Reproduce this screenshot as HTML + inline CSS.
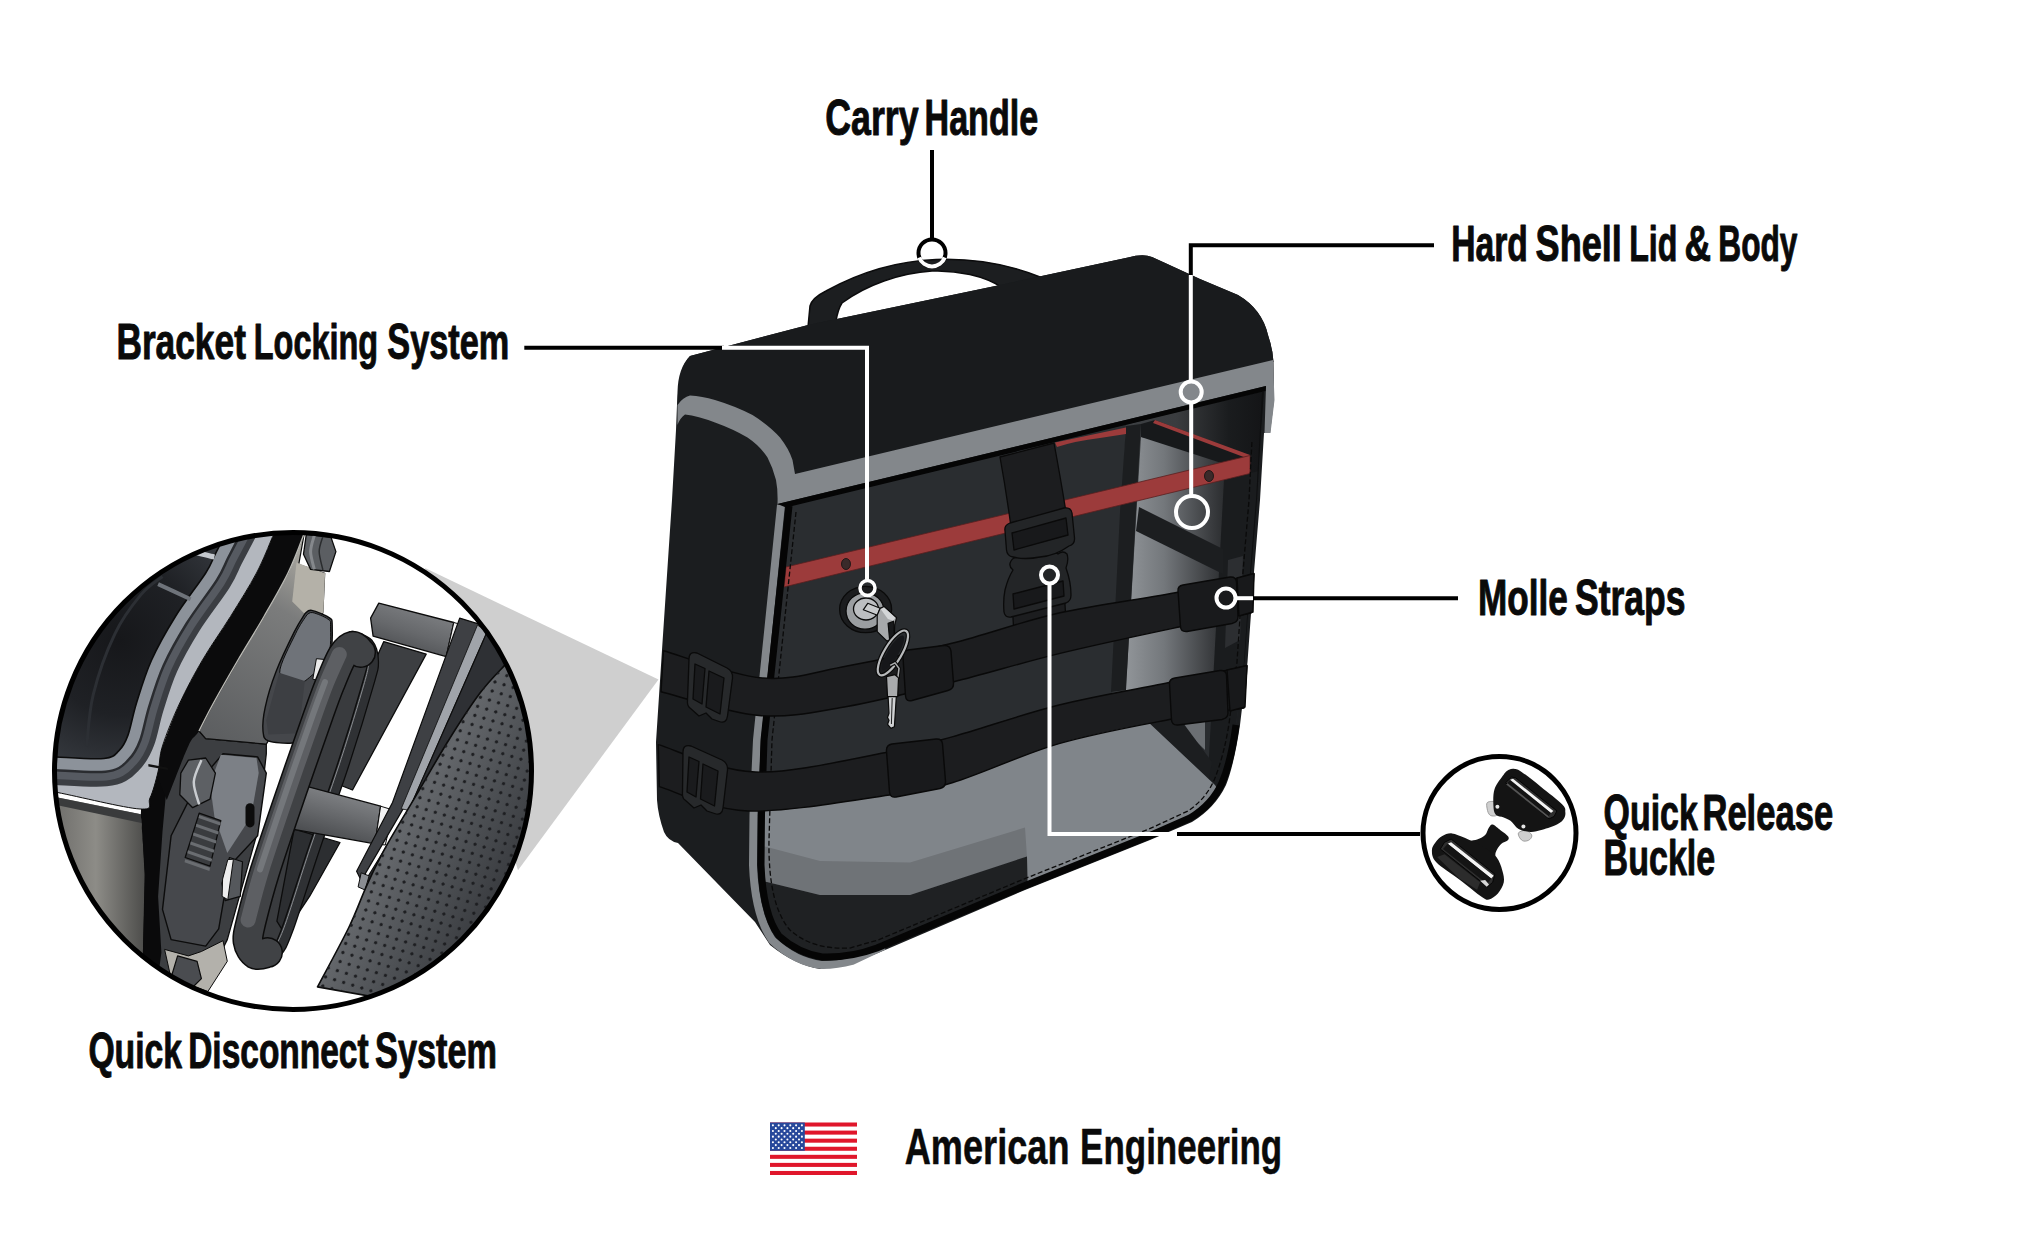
<!DOCTYPE html>
<html>
<head>
<meta charset="utf-8">
<title>Saddlebag features</title>
<style>
  html, body { margin: 0; padding: 0; background: #ffffff; }
  body { width: 2044px; height: 1248px; overflow: hidden; font-family: "Liberation Sans", sans-serif; }
  svg { display: block; }
  .lbl { font-family: "Liberation Sans", sans-serif; font-weight: bold; font-size: 50.5px; fill: #0a0a0a; stroke: #0a0a0a; stroke-width: 1.0px; stroke-linejoin: round; }
  .lbl2 { stroke-width: 0.5px; }
</style>
</head>
<body>
<svg width="2044" height="1248" viewBox="0 0 2044 1248">
<defs>
  <linearGradient id="gRightDark" gradientUnits="userSpaceOnUse" x1="1130" y1="0" x2="1262" y2="0">
    <stop offset="0" stop-color="#3c3f42"/>
    <stop offset="0.35" stop-color="#3a3c3f"/>
    <stop offset="0.75" stop-color="#1a1c1e"/>
    <stop offset="1" stop-color="#141517"/>
  </linearGradient>
  <linearGradient id="gPanel" gradientUnits="userSpaceOnUse" x1="1128" y1="0" x2="1232" y2="0">
    <stop offset="0" stop-color="#8f9397"/>
    <stop offset="0.35" stop-color="#73777b"/>
    <stop offset="0.8" stop-color="#3a3c3f"/>
    <stop offset="1" stop-color="#232527"/>
  </linearGradient>
  <clipPath id="detailClip"><circle cx="293" cy="771" r="238.5"/></clipPath>
  <linearGradient id="dgBrown" gradientUnits="userSpaceOnUse" x1="55" y1="0" x2="146" y2="0">
    <stop offset="0" stop-color="#6f6e6b"/>
    <stop offset="0.45" stop-color="#8d8c87"/>
    <stop offset="1" stop-color="#4b4b49"/>
  </linearGradient>
  <linearGradient id="dgPlate" gradientUnits="userSpaceOnUse" x1="320" y1="560" x2="215" y2="740">
    <stop offset="0" stop-color="#a9a7a0"/>
    <stop offset="0.3" stop-color="#7b7c7c"/>
    <stop offset="1" stop-color="#5c5e60"/>
  </linearGradient>
  <radialGradient id="dgPanel" gradientUnits="userSpaceOnUse" cx="120" cy="640" r="150">
    <stop offset="0" stop-color="#16171a"/>
    <stop offset="0.5" stop-color="#1f2125"/>
    <stop offset="1" stop-color="#3a3e44"/>
  </radialGradient>
  <linearGradient id="dgCyl1" gradientUnits="userSpaceOnUse" x1="420" y1="610" x2="405" y2="655">
    <stop offset="0" stop-color="#7a7c7f"/>
    <stop offset="0.5" stop-color="#66686b"/>
    <stop offset="1" stop-color="#4d4f52"/>
  </linearGradient>
  <linearGradient id="dgCyl2" gradientUnits="userSpaceOnUse" x1="345" y1="795" x2="333" y2="838">
    <stop offset="0" stop-color="#7e8083"/>
    <stop offset="0.5" stop-color="#66686b"/>
    <stop offset="1" stop-color="#4d4f52"/>
  </linearGradient>
  <linearGradient id="dgLeather" gradientUnits="userSpaceOnUse" x1="380" y1="760" x2="540" y2="850">
    <stop offset="0" stop-color="#4a4d51"/>
    <stop offset="0.3" stop-color="#64676b"/>
    <stop offset="0.65" stop-color="#4b4e52"/>
    <stop offset="1" stop-color="#35373b"/>
  </linearGradient>
  <linearGradient id="dgLeatherHi" gradientUnits="userSpaceOnUse" x1="380" y1="760" x2="540" y2="850">
    <stop offset="0" stop-color="#000" stop-opacity="0"/>
    <stop offset="1" stop-color="#000" stop-opacity="0"/>
  </linearGradient>
  <pattern id="dots" patternUnits="userSpaceOnUse" width="13.4" height="13.4" patternTransform="rotate(-28 400 800)">
    <circle cx="3.3" cy="3.3" r="1.700" fill="#1d1e21"/>
    <circle cx="10" cy="10" r="1.700" fill="#1d1e21"/>
  </pattern>
</defs>
<g id="cone">
  <polygon points="425,568.1 658.5,679.5 518,870.2" fill="#cfcfcf"/>
</g>
<g id="bag">
  <!-- handle -->
  <path d="M808,327 L810,306 Q812,298 826,291 C862,271 900,261 936,259.500 C976,258 1010,265 1040,277 L1001,287 C985,276 957,270 932,271 C900,273 866,285 842,303 Q838,309 836,321 Z" fill="#1c1e20" stroke="#0b0b0c" stroke-width="1.5"/>
  <!-- silhouette: lid + side -->
  <path id="sil" d="M690,356 L808,325 L1000,285 L1128,257.500 Q1143,253.500 1152,257 L1163,262 L1200,279 L1238,295 Q1262,309 1268,335 Q1273,350 1273.500,362 L1274,400 L1270,433 L1264,433 L1260,500 L1254,572 L1247.500,662 L1240,725 Q1234,765 1226,785 Q1215,808 1192,822 L1150,840 L1025,890 L878,953 Q850,965 820,969 Q795,965 770,945 L755,922 L678,843 Q668,841 664,832 Q658,815 657,800 L656,742 L662,650 L672,500 L676,430 L677.500,392 Q678,368 690,356 Z" fill="#1b1d1f"/>
  <!-- subtle lid highlight -->
  <path d="M690,356 L808,325 L1000,285 L1128,257.500 Q1143,253.500 1152,257 L1163,262 L1200,279 L1238,295 Q1262,309 1268,335 Q1273,350 1273.500,362 L795,474 Q792,440 752,415 Q715,398 690,395 L677.500,405 Q678,368 690,356 Z" fill="#191b1d"/>
  <!-- ===== front panel (x-ray) ===== -->
  <clipPath id="frontClip">
    <path d="M789,506 L1264,391 L1261,432 L1257,500 L1251,572 L1244.500,662 L1236,725 Q1231,762 1222,783 Q1212,805 1190,818 L1149,836 L1024,886 L877,948 Q850,958 822,957 Q798,953 779,936 Q763,915 761,865 L761.500,815 L764,740 Z"/>
  </clipPath>
  <g clip-path="url(#frontClip)">
    <rect x="740" y="380" width="540" height="600" fill="#2a2d30"/>
    <!-- right interior: dark gradient top area -->
    <path d="M1126,425 L1270,385 L1270,700 L1112,700 Z" fill="url(#gRightDark)"/>
    <!-- gray compartment wall (gradient light->dark) -->
    <path d="M1141,437 L1249,458 L1249,474 L1229,480 L1229,720 L1126,690 Q1126,676 1127,670 Z" fill="url(#gPanel)"/>
    <!-- dark right post -->
    <path d="M1224,480 L1262,470 L1250,830 L1205,830 Z" fill="#1a1c1e"/>
    <path d="M1228,560 L1243,556 L1240,640 L1225,648 Z" fill="#2c2e31"/>
    <!-- shelf under thin red line -->
    <path d="M1155,420 L1249,455 L1249,458 L1243,470 L1141,437 L1141,424 Z" fill="#17191b"/>
    <!-- diagonal beam -->
    <path d="M1139,507 L1223,549 L1223,574 L1136,531 Z" fill="#1c1e20"/>
    <!-- lower small compartment -->
    <path d="M1170,716 L1205,722 L1205,750 Z" fill="#6b6f73"/>
    <path d="M1148,722 L1175,712 L1212,762 L1205,800 Z" fill="#1c1e20"/>
    <!-- post -->
    <path d="M1126,426 L1141,424 L1136,512 L1126,690 L1111,692 L1120,512 Z" fill="#1c1e20"/>
    <!-- floor: light gray -->
    <path d="M740,800 L890,790 L1059,740 L1146,720 L1215,785 L1224,800 L1224,860 L1000,980 L740,980 Z" fill="#80858a"/>
    <!-- mid gray band -->
    <path d="M740,842 L767,847 L820,861 L910,862.500 L1025,827.500 L1027,857 L910,895 L820,895 L767,882 L740,878 Z" fill="#6f7377"/>
    <!-- dark box -->
    <path d="M740,878 L767,882 L820,895 L910,895 L1027,856.500 L1028,900 L860,980 L740,980 Z" fill="#1f2123"/>
    <!-- red back wedge -->
    <path d="M1055,442.500 L1126,427.500 L1126,434 L1100,438 Q1075,441 1057,447 Z" fill="#9c3b3b"/>
    <!-- red thin right line -->
    <path d="M1155,420 L1250,455 L1249,459 L1153,423 Z" fill="#9c3b3b"/>
    <!-- red front bar -->
    <path d="M786,567 L1250,455.500 L1250,473.500 L784,587 Z" fill="#9c3b3b" stroke="#5a1f1f" stroke-width="0.8"/>
    <ellipse cx="846" cy="564" rx="4.500" ry="5.500" fill="#3a2a2a" stroke="#241818" stroke-width="1"/>
    <ellipse cx="1209" cy="476" rx="4.500" ry="5.500" fill="#3a2a2a" stroke="#241818" stroke-width="1"/>
    <!-- right dark edge -->
    <path d="M1262,392 L1270,392 L1250,740 L1236,740 L1244,662 L1250,572 L1256,500 Z" fill="#0e0f10"/>
    <!-- stitch lines -->
    <path d="M796,512 L772,740 L769,840 Q768,905 790,930 Q812,950 850,948 L878,940 L1024,879 L1149,829 L1188,811 Q1207,798 1215,778 Q1224,755 1229,724 L1237,662 L1243,572 L1249,500 L1252,440" fill="none" stroke="#0a0a0a" stroke-width="1.300" stroke-dasharray="5 2.500"/>
  </g>
  <!-- gray trim left/bottom -->
  <path d="M781,505 L757,740 L753.500,815 L753,865 Q755,915 772,940 Q795,962 822,965 Q838,965 852,961 L884,946" fill="none" stroke="#83878b" stroke-width="8" stroke-linecap="butt"/>
  <!-- black outline of front panel -->
  <path d="M789,506 L764,740 L761.500,815 L761,865 Q763,915 779,936 Q798,953 822,957 Q850,958 877,948 L1024,886 L1149,836 L1190,818 Q1212,805 1222,783 Q1231,762 1236,725" fill="none" stroke="#050505" stroke-width="7" stroke-linejoin="round"/>
  <!-- lid band -->
  <path d="M677.500,405 Q683,397 690,395.500 Q702,396 715,400 Q735,406 752.500,415 Q770,426 780,437.500 Q789,449 792.500,460 L795,474 L1273,360 L1274.500,400 L1270.500,433 L1264.500,433 L1266,386 L777.500,504 Q778,490 776,480 Q773,468 767.500,457.500 Q760,446 747.500,437.500 Q733,429 715,422.500 Q698,416 685,414.500 Q680,418 677.500,425 Z" fill="#83878b"/>
  <!-- black line under band -->
  <path d="M777.500,504 L1266,386 L1265.500,391 L786,507.500 Z" fill="#050505"/>
  <!-- ===== centre strap + quick-release buckle (under MOLLE straps) ===== -->
  <g stroke="#0a0a0a" stroke-width="1.3" stroke-linejoin="round">
    <path d="M1000,457 L1054,443 Q1060,475 1066,512 L1011,527 Q1006,490 1000,457 Z" fill="#1c1d1f"/>
    <!-- lower strap stub -->
    <path d="M1012,600 L1064,587 L1066,622 L1014,636 Z" fill="#1c1d1f"/>
    <!-- male part -->
    <path d="M1020,558 Q1014,556 1011,561 Q1008,566 1013,570 Q1008,578 1005,590 Q1003,600 1004,612 Q1005,618 1011,617 L1066,603 Q1071,601 1071,595 Q1071,582 1066,568 Q1069,560 1067,554 Q1063,550 1058,554 Q1050,548 1040,550 Z" fill="#232527"/>
    <path d="M1013,594 L1063,581 L1064,596 L1014,609 Z" fill="#18191b"/>
    <!-- female part -->
    <path d="M1005,531 Q1004,525 1010,523 L1064,508 Q1071,507 1072,513 L1074.500,538 Q1075,544 1069,546 Q1055,556 1040,557 Q1025,560 1013,557 Q1007,556 1006.500,550 Z" fill="#232527"/>
    <path d="M1012,533 L1066,518 L1068,535 L1014,550 Z" fill="#18191b"/>
  </g>
  <!-- ===== lock ===== -->
  <g stroke="#0a0a0a" stroke-width="1.3" stroke-linejoin="round">
    <ellipse cx="865.6" cy="609.5" rx="26" ry="23.2" fill="#1b1c1e"/>
    <ellipse cx="865" cy="611" rx="19" ry="18.2" fill="#9b9ea1"/>
    <ellipse cx="866" cy="609" rx="12.5" ry="11" fill="#bcbec1"/>
  </g>

  <!-- ===== MOLLE straps ===== -->
  <g fill="#1c1d1f" stroke="#090909" stroke-width="1.4" stroke-linejoin="round">
    <path d="M663.5,650.7 C680.0,655.2 731.9,675.5 762.5,678.0 C793.1,680.5 815.2,671.8 847.0,666.0 C878.8,660.2 917.7,651.8 953.0,643.0 C988.3,634.2 1021.3,621.5 1059.0,613.0 C1096.7,604.5 1146.5,598.5 1179.0,592.0 C1211.5,585.5 1241.5,577.0 1254.0,574.0 L1251.0,613.0 C1239.0,615.3 1211.0,620.2 1179.0,627.0 C1147.0,633.8 1096.7,644.4 1059.0,653.6 C1021.3,662.8 988.3,673.2 953.0,682.0 C917.7,690.8 879.3,700.9 847.0,706.5 C814.7,712.1 790.0,718.0 759.0,715.5 C728.0,713.0 677.3,695.7 661.0,691.7 Z"/>
    <path d="M658.3,744.7 C674.5,749.2 717.4,770.7 755.4,772.0 C793.4,773.3 853.1,758.4 886.0,752.5 C918.9,746.6 924.2,744.5 953.0,736.6 C981.8,728.7 1022.5,714.1 1059.0,705.0 C1095.5,695.9 1140.7,688.5 1172.0,682.0 C1203.3,675.5 1234.5,668.7 1247.0,666.0 L1244.0,708.0 C1232.0,709.8 1202.8,713.0 1172.0,719.0 C1141.2,725.0 1095.5,733.1 1059.0,743.7 C1022.5,754.3 981.2,774.0 953.0,782.5 C924.8,791.0 923.8,790.2 889.6,795.0 C855.4,799.8 786.4,812.4 748.0,811.0 C709.6,809.6 674.1,790.8 659.3,786.7 Z"/>
    <!-- corner creases -->
    <!-- right wrap pieces -->
    <path d="M1237,578 L1254,573.500 L1253,612 L1239,616 Z" fill="#18191b"/>
    <path d="M1227,670 L1247,665.500 L1245,707 L1230,711 Z" fill="#18191b"/>
    <!-- loops -->
    <path d="M903,657 Q902,651 908,650 L944,645.500 Q950,645 951,651 L953.500,683 Q954,689 948,690.500 L912,700.500 Q906,702 905.500,696 Z" fill="#191a1c"/>
    <path d="M1178,591 Q1177.500,586 1183,585 L1230,577 Q1236,576.500 1236.500,582 L1238,617 Q1238,622 1232,623.500 L1187,631.500 Q1181,632 1180.500,627 Z" fill="#191a1c"/>
    <path d="M886.500,751 Q886,745 892,744 L936,739 Q942,738.500 942.500,744 L945.500,781 Q946,787 940,788.500 L896,797 Q890,798 889.500,792 Z" fill="#191a1c"/>
    <path d="M1169.500,684 Q1169,679 1175,678 L1220,670.500 Q1226,670 1226.500,675 L1228,713 Q1228,718 1222,719.500 L1178,725 Q1172,725.500 1171.500,720 Z" fill="#191a1c"/>
  </g>
  <!-- ===== side tri-glide buckles ===== -->
  <g stroke="#0a0a0a" stroke-width="1.3" stroke-linejoin="round">
    <path d="M689,659 Q689,651 697,653 L727,668 Q733,671 732.500,678 L727.500,716 Q726.500,724 719,721.500 L712,719 L706,713 L699,716 L690,708 Q687,706 687.500,700 Z" fill="#27292b"/>
    <path d="M695,664 L705,668.500 L702,704 L693,699 Z" fill="#1a1b1d"/>
    <path d="M709,671 L724,678 L720,714 L706,707 Z" fill="#1a1b1d"/>
    <path d="M683,752 Q683,744 691,746 L722,760 Q728,763 727.500,770 L723,808 Q722,816 714.500,813.500 L707,811 L701,805 L694,808 L685,800 Q682,798 682.500,792 Z" fill="#27292b"/>
    <path d="M689,757 L699,761.500 L696,797 L687,792 Z" fill="#1a1b1d"/>
    <path d="M703,764 L718,771 L714.500,806 L700.500,799 Z" fill="#1a1b1d"/>
  </g>
  <!-- ===== keys (over straps) ===== -->
  <g stroke="#0a0a0a" stroke-width="1.2" stroke-linejoin="round">
    <polygon points="863.3,609.8 867.7,603.3 880.2,608.2 877.5,615.2" fill="#c9cbcd"/>
    <polygon points="880.0,608.4 884.1,606.5 896.6,617.7 894.7,624.8 894.3,637.9 887.0,641.1 877.2,631.6 877.2,615.2" fill="#a7a9ab"/>
    <polygon points="880.8,609.2 884.1,607.6 895.4,617.7 893.3,620.7 887.9,619.1" fill="#d4d6d8" stroke="none"/>
    <polygon points="888.1,623.4 893.6,621.2 894.3,635.7 889.5,638.4" fill="#18191b"/>
    <ellipse cx="892.9" cy="652.9" rx="5.5" ry="20" transform="rotate(31 892.9 652.9)" fill="#16171a" stroke="none"/>
    <ellipse cx="892.9" cy="652.9" rx="8.6" ry="25.6" transform="rotate(31 892.9 652.9)" fill="none" stroke="#0a0a0a" stroke-width="4.6"/>
    <ellipse cx="892.9" cy="652.9" rx="8.6" ry="25.6" transform="rotate(31 892.9 652.9)" fill="none" stroke="#b7b9bb" stroke-width="2.2"/>
    <polyline points="890.2,665.4 895.0,662.9 899.0,668.4 897.7,679.0" fill="none" stroke="#0a0a0a" stroke-width="3.6"/>
    <polyline points="890.2,665.4 895.0,662.9 899.0,668.4 897.7,679.0" fill="none" stroke="#a9abad" stroke-width="1.6"/>
    <polygon points="886.5,676.6 895.0,674.7 898.5,677.9 897.7,696.7 887.5,696.7" fill="#a9abad"/>
    <polygon points="888.1,696.7 896.3,696.7 894.4,726.7 890.9,728.4 887.6,724.3 889.0,720.2 887.5,717.5 889.0,713.4" fill="#cfd1d3"/>
    <polyline points="892.2,698.1 891.4,724.0" fill="none" stroke-width="0.9"/>
  </g>
</g>
<g id="detail">
  <circle cx="293" cy="771" r="238.5" fill="#ffffff"/>
  <g clip-path="url(#detailClip)">
<polygon points="28.4,791.5 140.8,814.2 146.2,874.8 144.1,1026.1 28.4,1026.1" fill="url(#dgBrown)" />
<polygon points="28.4,791.5 140.8,814.2 141.5,822.9 28.4,799.1" fill="#3a3b3c" />
<polygon points="188.4,720.3 199.2,731.1 205.7,738.7 266.3,744.1 266.3,753.7 257.6,831.5 227.3,939.6 201.4,991.5 171.1,978.6 143.0,982.9 145.2,874.8 141.9,809.9 151.6,766.6" fill="#3c3e41" stroke="#0c0c0c" stroke-width="1.3" stroke-linejoin="round" />
<polygon points="164.6,949.4 188.4,955.9 201.4,951.5 223.0,940.7 227.3,961.3 207.9,991.5 171.1,978.6" fill="#b3b1ab" stroke="#0c0c0c" stroke-width="1.0" stroke-linejoin="round" />
<polygon points="143.0,775.3 167.9,773.1 162.5,831.5 158.1,896.4 161.4,952.6 157.1,985.1 141.9,985.1 145.2,874.8 140.8,814.2" fill="#0a0a0b" />
<polygon points="308.0,520.0 303.0,536.5 288.0,573.0 264.0,616.5 238.0,660.0 213.5,703.0 199.0,731.0 205.7,738.7 266.3,744.1 305.2,681.4 322.9,612.2 324.7,573.3 298.7,564.6 304.1,534.3" fill="url(#dgPlate)" stroke="#0c0c0c" stroke-width="1.2" stroke-linejoin="round" />
<polygon points="296.5,562.4 325.1,573.3 323.4,613.3 306.3,615.4 292.2,601.4" fill="#b4b1a8" />
<path d="M279.0,520.0 C277.9,522.8 276.4,527.7 272.7,536.5 C268.9,545.3 263.5,559.7 256.5,573.0 C249.5,586.3 239.5,602.0 230.5,616.5 C221.5,631.0 210.9,645.6 202.5,660.0 C194.1,674.4 186.5,688.7 179.8,703.0 C173.1,717.3 166.8,735.2 162.5,746.0 C158.2,756.8 155.2,764.3 153.8,768.0 L166.8,800.0 C170.4,791.0 183.0,757.5 188.4,746.0 C193.8,734.5 194.8,738.2 199.0,731.0 C203.2,723.8 207.0,714.8 213.5,703.0 C220.0,691.2 229.6,674.4 238.0,660.0 C246.4,645.6 255.7,631.0 264.0,616.5 C272.3,602.0 281.5,586.3 288.0,573.0 C294.5,559.7 299.7,545.3 303.0,536.5 C306.3,527.7 307.2,522.8 308.0,520.0 Z" fill="#0b0b0c" />
<path d="M308.0,520.0 C307.2,522.8 306.3,527.7 303.0,536.5 C299.7,545.3 294.5,559.7 288.0,573.0 C281.5,586.3 272.3,602.0 264.0,616.5 C255.7,631.0 246.4,645.6 238.0,660.0 C229.6,674.4 220.0,691.2 213.5,703.0 C207.0,714.8 201.4,726.3 199.0,731.0" fill="none" stroke="#b9b9b4" stroke-width="1.4" stroke-linejoin="round" />
<path d="M232.0,522.0 C229.4,526.9 220.9,543.1 216.5,551.6 C212.1,560.1 212.5,562.2 205.7,573.0 C198.8,583.8 184.4,602.0 175.4,616.5 C166.4,631.0 158.1,645.6 151.6,660.0 C145.1,674.4 140.4,690.4 136.5,703.0 C132.6,715.6 130.8,727.5 127.9,735.4 C125.0,743.3 123.0,746.8 119.0,750.6 C115.0,754.5 114.4,757.4 104.0,758.5 C93.6,759.6 68.8,757.6 56.5,757.0 C44.2,756.4 34.4,755.3 30.0,755.0 L20.0,786.0 C26.2,787.1 37.5,788.7 57.5,792.5 C77.5,796.3 124.6,808.1 140.0,809.0 C155.4,809.9 147.0,804.2 150.0,798.0 C153.0,791.8 155.9,780.7 158.0,772.0 C160.1,763.3 158.9,757.5 162.5,746.0 C166.1,734.5 173.1,717.3 179.8,703.0 C186.5,688.7 194.1,674.4 202.5,660.0 C210.9,645.6 221.5,631.0 230.5,616.5 C239.5,602.0 249.5,586.3 256.5,573.0 C263.5,559.7 268.9,545.3 272.7,536.5 C276.4,527.7 277.9,522.8 279.0,520.0 Z" fill="#b3b7be" stroke="#0c0c0c" stroke-width="1.0" stroke-linejoin="round" />
<path d="M232.0,522.0 C229.4,526.9 220.9,543.1 216.5,551.6 C212.1,560.1 212.5,562.2 205.7,573.0 C198.8,583.8 184.4,602.0 175.4,616.5 C166.4,631.0 158.1,645.6 151.6,660.0 C145.1,674.4 140.4,690.4 136.5,703.0 C132.6,715.6 130.8,727.5 127.9,735.4 C125.0,743.3 123.0,746.8 119.0,750.6 C115.0,754.5 114.4,757.4 104.0,758.5 C93.6,759.6 68.8,757.6 56.5,757.0 C44.2,756.4 34.4,755.3 30.0,755.0" fill="none" stroke="#3b3e43" stroke-width="56" stroke-linejoin="round" stroke-linecap="butt"/>
<path d="M232.0,522.0 C229.4,526.9 220.9,543.1 216.5,551.6 C212.1,560.1 212.5,562.2 205.7,573.0 C198.8,583.8 184.4,602.0 175.4,616.5 C166.4,631.0 158.1,645.6 151.6,660.0 C145.1,674.4 140.4,690.4 136.5,703.0 C132.6,715.6 130.8,727.5 127.9,735.4 C125.0,743.3 123.0,746.8 119.0,750.6 C115.0,754.5 114.4,757.4 104.0,758.5 C93.6,759.6 68.8,757.6 56.5,757.0 C44.2,756.4 34.4,755.3 30.0,755.0" fill="none" stroke="#565a61" stroke-width="44" stroke-linejoin="round" stroke-linecap="butt"/>
<path d="M232.0,522.0 C229.4,526.9 220.9,543.1 216.5,551.6 C212.1,560.1 212.5,562.2 205.7,573.0 C198.8,583.8 184.4,602.0 175.4,616.5 C166.4,631.0 158.1,645.6 151.6,660.0 C145.1,674.4 140.4,690.4 136.5,703.0 C132.6,715.6 130.8,727.5 127.9,735.4 C125.0,743.3 123.0,746.8 119.0,750.6 C115.0,754.5 114.4,757.4 104.0,758.5 C93.6,759.6 68.8,757.6 56.5,757.0 C44.2,756.4 34.4,755.3 30.0,755.0" fill="none" stroke="#2a2c30" stroke-width="29" stroke-linejoin="round" stroke-linecap="butt"/>
<path d="M232.0,522.0 C229.4,526.9 220.9,543.1 216.5,551.6 C212.1,560.1 212.5,562.2 205.7,573.0 C198.8,583.8 184.4,602.0 175.4,616.5 C166.4,631.0 158.1,645.6 151.6,660.0 C145.1,674.4 140.4,690.4 136.5,703.0 C132.6,715.6 130.8,727.5 127.9,735.4 C125.0,743.3 123.0,746.8 119.0,750.6 C115.0,754.5 114.4,757.4 104.0,758.5 C93.6,759.6 68.8,757.6 56.5,757.0 C44.2,756.4 34.4,755.3 30.0,755.0" fill="none" stroke="#8c929a" stroke-width="24" stroke-linejoin="round" stroke-linecap="butt"/>
<polygon points="148.4,764.0 167.9,767.7 167.9,770.1 148.4,766.4" fill="#111" />
<path d="M232.0,522.0 C229.4,526.9 220.9,543.1 216.5,551.6 C212.1,560.1 212.5,562.2 205.7,573.0 C198.8,583.8 184.4,602.0 175.4,616.5 C166.4,631.0 158.1,645.6 151.6,660.0 C145.1,674.4 140.4,690.4 136.5,703.0 C132.6,715.6 130.8,727.5 127.9,735.4 C125.0,743.3 123.0,746.8 119.0,750.6 C115.0,754.5 114.4,757.4 104.0,758.5 C93.6,759.6 68.8,757.6 56.5,757.0 C44.2,756.4 34.4,755.3 30.0,755.0 L-10,755 L-10,500 Z" fill="url(#dgPanel)" stroke="#0c0c0c" stroke-width="1.6" stroke-linejoin="round" />
<path d="M188.4,550.5 C192.7,551.6 210.0,556.0 214.4,557.0" fill="none" stroke="#c4c8ce" stroke-width="5" stroke-linejoin="round" />
<path d="M158.1,584.1 C163.5,586.6 185.2,596.7 190.6,599.2" fill="none" stroke="#6e737a" stroke-width="4" stroke-linejoin="round" />
<path d="M162.5,576.5 C158.9,579.6 148.8,585.3 140.8,594.9 C132.9,604.4 122.8,617.2 114.9,633.8 C106.9,650.4 97.9,675.6 93.3,694.4 C88.6,713.1 87.8,737.6 86.8,746.3" fill="none" stroke="#2c2f34" stroke-width="3" stroke-linejoin="round" />
<polygon points="306.3,534.3 331.1,537.6 335.9,551.6 329.4,571.5 310.6,569.4 303.5,554.2" fill="#5b5e62" stroke="#0c0c0c" stroke-width="1.3" stroke-linejoin="round" />
<path d="M322.9,536.5 C322.3,539.0 319.2,546.0 319.2,551.6 C319.2,557.2 322.3,566.9 322.9,570.0" fill="none" stroke="#2a2c2e" stroke-width="1.5" stroke-linejoin="round" />
<path d="M314.3,535.4 C313.7,538.1 310.6,546.0 310.6,551.6 C310.6,557.3 313.7,566.4 314.3,569.4" fill="none" stroke="#85888c" stroke-width="3" stroke-linejoin="round" />
<path d="M305.2,613.3 C306.3,612.8 307.7,609.7 311.7,610.4 C315.6,611.2 325.6,615.1 329.0,617.6 C332.4,620.0 332.0,618.7 332.2,625.2 C332.4,631.6 332.8,647.1 330.1,656.5 C327.4,665.9 320.3,667.9 316.0,681.4 C311.7,694.9 308.1,727.3 304.1,737.6 C300.1,747.9 298.2,742.5 292.2,743.0 C286.3,743.6 273.3,742.8 268.4,740.9 C263.6,738.9 263.6,736.7 263.0,731.1 C262.5,725.5 263.0,717.2 265.2,707.3 C267.3,697.4 271.1,684.3 276.0,671.7 C280.9,659.0 289.5,641.4 294.4,631.6 C299.2,621.9 303.4,616.3 305.2,613.3 Z" fill="#45474b" stroke="#0c0c0c" stroke-width="1.4" stroke-linejoin="round" />
<path d="M306.9,614.8 C307.9,614.4 309.3,611.9 312.8,612.6 C316.3,613.3 324.9,616.8 327.9,619.1 C330.9,621.4 330.5,620.0 330.5,626.2 C330.5,632.5 331.8,647.7 327.9,656.5 C324.0,665.3 312.2,675.3 307.4,679.2 C302.5,683.2 303.3,681.4 298.7,680.3 C294.1,679.2 280.2,680.5 279.7,672.7 C279.1,665.0 290.9,643.5 295.5,633.8 C300.0,624.1 305.0,617.9 306.9,614.8 Z" fill="#6f7379" stroke="#0c0c0c" stroke-width="1.0" stroke-linejoin="round" />
<polygon points="279.2,672.7 304.8,681.0 298.7,733.3 268.4,734.4 266.3,720.3" fill="#3d3f43" />
<polygon points="316.4,658.7 327.9,659.8 322.9,681.4 312.8,679.2" fill="#e9e9e9" stroke="#0c0c0c" stroke-width="1.0" stroke-linejoin="round" />
<polygon points="223.0,753.7 257.6,756.9 266.3,773.1 257.6,835.8 229.5,866.1 218.7,928.8 205.7,946.1 171.1,939.6 162.5,909.4 171.1,835.8 197.1,783.9" fill="#46484c" stroke="#0c0c0c" stroke-width="1.4" stroke-linejoin="round" />
<polygon points="220.8,754.7 256.5,758.0 258.7,773.1 251.1,816.4 227.3,853.1 214.4,816.4 210.0,783.9" fill="#7c8086" />
<path d="M250.0,807.7 C250.0,810.2 250.0,820.3 250.0,822.9" fill="none" stroke="#0c0c0c" stroke-width="9" stroke-linejoin="round" stroke-linecap="round"/>
<polygon points="188.4,760.1 205.7,758.0 215.4,773.1 210.0,799.1 192.7,807.7 179.8,794.7 180.8,773.1" fill="#5d6064" stroke="#0c0c0c" stroke-width="1.3" stroke-linejoin="round" />
<path d="M201.4,760.1 C200.1,763.7 194.2,774.4 193.8,781.8 C193.5,789.2 198.3,800.7 199.2,804.5" fill="none" stroke="#c9ccd0" stroke-width="2.5" stroke-linejoin="round" />
<polygon points="199.2,813.1 220.8,820.7 210.0,866.1 185.2,857.5" fill="#3a3c3f" stroke="#0c0c0c" stroke-width="1.3" stroke-linejoin="round" />
<polygon points="199.2,814.9 220.8,822.4 220.2,825.4 198.6,817.9" fill="#6a6d71" />
<polygon points="196.4,823.7 218.7,831.5 218.0,834.5 195.8,826.7" fill="#6a6d71" />
<polygon points="193.6,832.6 216.5,840.6 215.9,843.6 192.9,835.6" fill="#6a6d71" />
<polygon points="190.8,841.5 214.4,849.7 213.7,852.7 190.1,844.5" fill="#6a6d71" />
<polygon points="188.0,850.3 212.2,858.8 211.5,861.8 187.3,853.3" fill="#6a6d71" />
<polygon points="185.2,859.2 210.0,867.8 209.4,870.9 184.5,862.2" fill="#6a6d71" />
<polygon points="229.5,857.5 242.5,861.8 240.3,896.4 225.2,900.7 221.9,883.4" fill="#55585c" stroke="#0c0c0c" stroke-width="1.2" stroke-linejoin="round" />
<polygon points="227.8,859.6 233.4,859.2 227.8,899.6 222.1,896.4 222.6,879.1" fill="#ededed" stroke="#0c0c0c" stroke-width="1.0" stroke-linejoin="round" />
<polygon points="177.6,955.9 197.1,961.3 201.4,978.6 192.7,987.2 171.1,977.5" fill="#4a4c50" stroke="#0c0c0c" stroke-width="1.2" stroke-linejoin="round" />
<polygon points="383.8,641.6 426.2,654.1 352.5,790.0 322.5,778.1" fill="#3d3f42" stroke="#0c0c0c" stroke-width="1.3" stroke-linejoin="round" />
<path d="M353.4,640.0 C356.0,641.3 366.1,643.6 369.1,647.8 C372.0,652.0 371.5,659.0 371.2,665.0 C371.0,671.0 372.3,667.1 367.5,683.8 C362.7,700.4 351.6,737.4 342.5,765.0 C333.4,792.6 322.2,822.0 312.8,849.4 C303.4,876.7 292.8,911.6 286.2,929.1 C279.7,946.5 279.0,949.1 273.8,954.1 C268.5,959.0 260.2,962.1 255.0,958.8 C249.8,955.4 241.5,950.4 242.5,933.8 C243.5,917.1 252.9,886.9 261.2,858.8 C269.6,830.6 281.0,797.3 292.5,765.0 C304.0,732.7 319.8,685.8 330.0,665.0 C340.2,644.2 349.5,644.2 353.4,640.0 Z" fill="#393b3e" stroke="#0c0c0c" stroke-width="1.2" stroke-linejoin="round" />
<polygon points="294.1,829.1 340.0,842.5 309.7,896.2 284.7,933.8 276.9,921.2" fill="#2c2e31" stroke="#0c0c0c" stroke-width="1.3" stroke-linejoin="round" />
<path d="M352.5,636.9 C355.0,638.0 364.1,639.7 367.5,643.8 C370.9,647.8 372.7,654.6 372.8,661.2 C372.9,667.9 373.1,666.5 368.1,683.8 C363.2,701.0 352.2,737.4 343.1,765.0 C334.1,792.6 323.0,822.0 313.8,849.4 C304.5,876.7 293.9,911.9 287.5,929.1 C281.1,946.2 280.3,947.0 275.6,952.5 C271.0,958.0 262.3,960.3 259.7,961.9" fill="none" stroke="#0c0c0c" stroke-width="12.5" stroke-linejoin="round" stroke-linecap="round"/>
<path d="M352.5,636.9 C355.0,638.0 364.1,639.7 367.5,643.8 C370.9,647.8 372.7,654.6 372.8,661.2 C372.9,667.9 373.1,666.5 368.1,683.8 C363.2,701.0 352.2,737.4 343.1,765.0 C334.1,792.6 323.0,822.0 313.8,849.4 C304.5,876.7 293.9,911.9 287.5,929.1 C281.1,946.2 280.3,947.0 275.6,952.5 C271.0,958.0 262.3,960.3 259.7,961.9" fill="none" stroke="#2f3134" stroke-width="10" stroke-linejoin="round" stroke-linecap="round"/>
<path d="M369.2,660.0 C368.4,663.8 369.5,665.3 364.5,682.5 C359.6,699.8 348.6,736.2 339.5,763.8 C330.5,791.4 319.4,820.8 310.1,848.2 C300.9,875.5 290.3,910.7 283.9,927.9 C277.5,945.0 274.0,947.4 272.0,951.3" fill="none" stroke="#8a8d91" stroke-width="1.0" stroke-linejoin="round" />
<polygon points="299.4,784.4 380.6,806.2 375.0,843.8 293.8,829.4 291.9,805.6" fill="url(#dgCyl2)" stroke="#0c0c0c" stroke-width="1.3" stroke-linejoin="round" />
<polygon points="380.6,806.2 393.1,810.0 385.3,845.0 375.0,843.8" fill="#f2f2f2" stroke="#0c0c0c" stroke-width="1.0" stroke-linejoin="round" />
<path d="M360.6,652.5 C359.3,651.5 355.8,645.7 352.8,646.2 C349.8,646.8 346.3,649.4 342.5,655.6 C338.7,661.9 334.0,673.9 330.0,683.8 C326.0,693.6 324.7,697.3 318.4,715.0 C312.1,732.7 301.1,764.0 292.2,790.0 C283.3,816.0 271.8,849.4 265.0,871.2 C258.2,893.1 254.1,909.5 251.2,921.2 C248.4,933.0 247.4,936.1 248.1,941.6 C248.9,947.0 252.4,952.2 255.6,954.1 C258.9,955.9 265.5,952.8 267.5,952.5" fill="none" stroke="#0c0c0c" stroke-width="31" stroke-linejoin="round" stroke-linecap="round"/>
<path d="M360.6,652.5 C359.3,651.5 355.8,645.7 352.8,646.2 C349.8,646.8 346.3,649.4 342.5,655.6 C338.7,661.9 334.0,673.9 330.0,683.8 C326.0,693.6 324.7,697.3 318.4,715.0 C312.1,732.7 301.1,764.0 292.2,790.0 C283.3,816.0 271.8,849.4 265.0,871.2 C258.2,893.1 254.1,909.5 251.2,921.2 C248.4,933.0 247.4,936.1 248.1,941.6 C248.9,947.0 252.4,952.2 255.6,954.1 C258.9,955.9 265.5,952.8 267.5,952.5" fill="none" stroke="#404245" stroke-width="28" stroke-linejoin="round" stroke-linecap="round"/>
<path d="M339.3,654.4 C337.2,659.1 330.8,672.7 326.8,682.5 C322.8,692.4 321.5,696.1 315.2,713.8 C308.9,731.5 297.9,762.8 289.0,788.8 C280.1,814.8 268.6,848.2 261.8,870.0 C255.0,891.9 250.3,911.7 248.1,920.0" fill="none" stroke="#5d5f63" stroke-width="15" stroke-linejoin="round" stroke-linecap="round"/>
<path d="M325.0,682.0 C323.1,687.2 319.7,695.5 313.4,713.2 C307.1,730.9 296.1,762.2 287.2,788.2 C278.3,814.2 264.5,855.9 260.0,869.5" fill="none" stroke="#74777b" stroke-width="6" stroke-linejoin="round" stroke-linecap="round"/>
<polygon points="378.8,603.1 453.8,622.5 446.2,656.6 373.1,636.2 370.6,618.1" fill="url(#dgCyl1)" stroke="#0c0c0c" stroke-width="1.3" stroke-linejoin="round" />
<polygon points="453.8,622.5 462.8,625.0 454.4,658.1 446.2,656.6" fill="#f2f2f2" stroke="#0c0c0c" stroke-width="1.0" stroke-linejoin="round" />
<polygon points="459.7,618.1 480.0,624.4 405.0,805.6 361.2,880.6 356.6,871.2 392.5,802.5" fill="#3e4044" stroke="#0c0c0c" stroke-width="1.2" stroke-linejoin="round" />
<polygon points="477.5,625.0 486.9,632.2 408.8,810.3 401.2,808.8" fill="#a0a4aa" stroke="#0c0c0c" stroke-width="0.8" stroke-linejoin="round" />
<polygon points="486.9,632.2 508.1,660.3 430.0,777.5 371.2,879.1 364.4,882.2 408.8,810.3" fill="#2e3034" stroke="#0c0c0c" stroke-width="1.2" stroke-linejoin="round" />
<polygon points="361.2,872.8 369.1,875.9 365.0,890.0 358.1,886.9" fill="#8a8d92" stroke="#0c0c0c" stroke-width="1.0" stroke-linejoin="round" />
<path d="M542.5,627.5 C536.5,633.5 517.0,652.5 506.6,663.4 C496.1,674.4 489.6,680.4 480.0,693.1 C470.4,705.9 459.2,723.3 448.8,740.0 C438.3,756.7 427.9,775.4 417.5,793.1 C407.1,810.8 394.6,831.1 386.2,846.2 C377.9,861.4 373.8,870.2 367.5,883.8 C361.2,897.3 357.1,910.3 348.8,927.5 C340.4,944.7 322.7,977.0 317.5,986.9 L560,1030 L560,600 Z" fill="url(#dgLeather)" stroke="#0c0c0c" stroke-width="1.6" stroke-linejoin="round" />
<path d="M542.5,627.5 C536.5,633.5 517.0,652.5 506.6,663.4 C496.1,674.4 489.6,680.4 480.0,693.1 C470.4,705.9 459.2,723.3 448.8,740.0 C438.3,756.7 427.9,775.4 417.5,793.1 C407.1,810.8 394.6,831.1 386.2,846.2 C377.9,861.4 373.8,870.2 367.5,883.8 C361.2,897.3 357.1,910.3 348.8,927.5 C340.4,944.7 322.7,977.0 317.5,986.9 L560,1030 L560,600 Z" fill="url(#dots)" />
<path d="M542.5,627.5 C536.5,633.5 517.0,652.5 506.6,663.4 C496.1,674.4 489.6,680.4 480.0,693.1 C470.4,705.9 459.2,723.3 448.8,740.0 C438.3,756.7 427.9,775.4 417.5,793.1 C407.1,810.8 394.6,831.1 386.2,846.2 C377.9,861.4 373.8,870.2 367.5,883.8 C361.2,897.3 357.1,910.3 348.8,927.5 C340.4,944.7 322.7,977.0 317.5,986.9 L560,1030 L560,600 Z" fill="url(#dgLeatherHi)" />
  </g>
  <circle cx="293" cy="771" r="238.5" fill="none" stroke="#000" stroke-width="5"/>
</g>
<g id="qr">
  <circle cx="1499.5" cy="833" r="76.5" fill="#ffffff" stroke="#000" stroke-width="5"/>
<path d="M1486.7,803.8 C1487.1,801.9 1488.8,801.7 1490.4,801.5 C1492.0,801.4 1495.1,800.9 1496.4,803.0 C1497.6,805.1 1498.6,812.0 1497.9,814.1 C1497.1,816.3 1493.5,816.2 1491.9,815.9 C1490.3,815.7 1489.1,814.7 1488.2,812.6 C1487.3,810.6 1486.4,805.6 1486.7,803.8 Z" fill="#cfcfcf" stroke="#8e8e8e" stroke-width="0.8"/>
<path d="M1518.6,832.7 C1519.6,831.4 1523.8,830.1 1526.0,830.4 C1528.2,830.8 1531.0,833.4 1531.7,834.9 C1532.3,836.4 1531.0,838.6 1529.7,839.6 C1528.4,840.7 1525.5,841.4 1523.8,841.1 C1522.1,840.8 1520.7,839.3 1519.8,837.9 C1518.9,836.4 1517.6,833.9 1518.6,832.7 Z" fill="#cfcfcf" stroke="#8e8e8e" stroke-width="0.8"/>
<path d="M1503.8,774.4 C1506.2,771.2 1507.1,770.6 1509.0,769.7 C1510.8,768.7 1512.8,768.5 1514.9,768.9 C1517.0,769.3 1517.2,768.9 1521.6,771.9 C1525.9,774.8 1534.0,781.3 1540.8,786.7 C1547.6,792.1 1558.3,800.3 1562.3,804.5 C1566.4,808.7 1565.0,809.6 1565.3,811.9 C1565.6,814.3 1565.3,816.5 1564.0,818.6 C1562.7,820.6 1561.1,822.4 1557.4,824.2 C1553.8,826.1 1546.8,828.4 1542.3,829.7 C1537.8,831.0 1534.4,832.0 1530.5,831.9 C1526.5,831.8 1521.9,830.8 1518.6,829.0 C1515.3,827.1 1512.9,822.7 1510.5,820.8 C1508.0,818.9 1506.3,818.5 1503.8,817.4 C1501.3,816.3 1497.4,816.5 1495.6,814.4 C1493.9,812.4 1493.6,809.5 1493.4,805.2 C1493.2,801.0 1492.9,794.1 1494.6,788.9 C1496.3,783.8 1501.4,777.6 1503.8,774.4 Z" fill="#141414"/>
<polygon points="1505.6,782.7 1511.5,777.1 1515.6,777.8 1556.9,810.9 1554.2,816.4 1549.0,818.9" fill="#2e2e2e" stroke="#050505" stroke-width="1"/>
<polygon points="1510.0,779.7 1513.0,778.8 1553.4,810.9 1550.9,812.9" fill="#f4f4f4"/>
<polygon points="1507.0,783.3 1510.0,780.3 1550.9,812.9 1548.3,816.5" fill="#141414"/>
<polygon points="1506.2,784.5 1507.6,783.3 1548.6,816.2 1548.3,818.0" fill="#555"/>
<circle cx="1497.4" cy="806.7" r="2" fill="#e6e6e6"/>
<circle cx="1523.4" cy="826.4" r="2" fill="#e6e6e6"/>
<path d="M1489.0,827.5 C1490.2,825.7 1490.7,824.0 1492.7,824.5 C1494.6,825.0 1498.2,828.5 1500.8,830.4 C1503.4,832.4 1507.1,834.7 1508.2,836.4 C1509.3,838.0 1508.7,839.2 1507.5,840.5 C1506.3,841.8 1503.1,842.1 1501.1,844.1 C1499.1,846.1 1496.7,849.5 1495.6,852.7 C1494.6,855.8 1497.0,862.1 1494.9,863.1 C1492.8,864.0 1488.2,861.8 1483.0,858.6 C1477.8,855.4 1464.7,846.9 1463.8,843.8 C1462.8,840.6 1473.5,841.1 1477.1,839.6 C1480.7,838.1 1483.3,836.9 1485.2,834.9 C1487.2,832.9 1487.7,829.2 1489.0,827.5 Z" fill="#141414"/>
<path d="M1431.9,850.5 C1431.8,847.1 1433.9,844.7 1435.6,842.3 C1437.3,839.9 1439.5,837.6 1442.3,836.1 C1445.0,834.6 1448.1,833.1 1451.9,833.4 C1455.7,833.7 1460.0,835.9 1465.2,838.1 C1470.4,840.4 1477.8,843.6 1483.0,846.7 C1488.2,849.9 1493.2,853.2 1496.4,857.1 C1499.6,861.1 1501.1,866.3 1502.3,870.5 C1503.5,874.7 1504.5,878.5 1503.8,882.3 C1503.0,886.2 1500.3,890.6 1497.9,893.4 C1495.4,896.3 1491.5,898.8 1489.0,899.4 C1486.4,900.0 1487.2,900.5 1482.3,897.2 C1477.3,893.8 1467.0,885.2 1459.3,879.4 C1451.6,873.6 1440.9,867.1 1436.3,862.3 C1431.8,857.5 1432.0,853.8 1431.9,850.5 Z" fill="#141414"/>
<polygon points="1440.3,849.0 1444.5,842.3 1451.1,839.0 1494.9,874.2 1492.7,882.3 1487.5,886.8" fill="#2e2e2e" stroke="#050505" stroke-width="1"/>
<polygon points="1447.7,843.8 1451.1,842.3 1493.7,875.7 1491.2,878.6" fill="#f4f4f4"/>
<polygon points="1443.0,849.0 1447.7,843.8 1491.2,878.6 1487.2,884.1" fill="#141414"/>
<polygon points="1480.1,880.8 1485.2,880.1 1489.0,884.6 1486.7,886.8" fill="#d8d8d8"/>
<polygon points="1437.1,857.1 1444.5,854.2 1480.1,882.3 1477.1,889.7 1459.3,878.6" fill="#2c2c2c"/>
</g>
<g id="callouts" fill="none" stroke-width="4">
  <!-- carry handle -->
  <path d="M932 150 V239" stroke="#000"/>
  <circle cx="932" cy="253" r="13.5" stroke="#000"/>
  <path d="M919.3,257.500 A13.500,13.500 0 0 0 944.700,257.500" stroke="#fff"/>
  <!-- bracket locking -->
  <path d="M524.3 347.7 H724" stroke="#000"/>
  <path d="M722 347.7 H867 V580" stroke="#fff"/>
  <circle cx="867.5" cy="588" r="7.5" stroke="#fff" stroke-width="3.5"/>
  <!-- hard shell -->
  <path d="M1434 245.3 H1190.800 V276" stroke="#000"/>
  <path d="M1190.800 275 V381 M1191.200 403 V495" stroke="#fff"/>
  <circle cx="1191.200" cy="392" r="10.500" stroke="#fff"/>
  <circle cx="1192" cy="512" r="16" stroke="#fff"/>
  <!-- molle -->
  <path d="M1458 598.2 H1252" stroke="#000"/>
  <path d="M1253 598.2 H1237" stroke="#fff"/>
  <circle cx="1226" cy="598" r="9.500" stroke="#fff"/>
  <!-- quick release -->
  <path d="M1420 834 H1176" stroke="#000"/>
  <path d="M1177 834 H1049.500 V585" stroke="#fff"/>
  <circle cx="1049.500" cy="575" r="8.500" stroke="#fff"/>
</g>
<g id="labels">
  <text class="lbl" x="825.3" y="134.5" textLength="93.3" lengthAdjust="spacingAndGlyphs">Carry</text>
  <text class="lbl" x="924.5" y="134.5" textLength="113.7" lengthAdjust="spacingAndGlyphs">Handle</text>
  <text class="lbl" x="116.4" y="359.4" textLength="129.5" lengthAdjust="spacingAndGlyphs">Bracket</text>
  <text class="lbl" x="253.8" y="359.4" textLength="124.4" lengthAdjust="spacingAndGlyphs">Locking</text>
  <text class="lbl" x="387.3" y="359.4" textLength="121.9" lengthAdjust="spacingAndGlyphs">System</text>
  <text class="lbl" x="1451.2" y="261.4" textLength="76.6" lengthAdjust="spacingAndGlyphs">Hard</text>
  <text class="lbl" x="1535.6" y="261.4" textLength="86.3" lengthAdjust="spacingAndGlyphs">Shell</text>
  <text class="lbl" x="1629.2" y="261.4" textLength="48.2" lengthAdjust="spacingAndGlyphs">Lid</text>
  <text class="lbl" x="1684.4" y="261.4" textLength="26.5" lengthAdjust="spacingAndGlyphs">&amp;</text>
  <text class="lbl" x="1718.3" y="261.4" textLength="79.1" lengthAdjust="spacingAndGlyphs">Body</text>
  <text class="lbl" x="1477.9" y="615.1" textLength="89.8" lengthAdjust="spacingAndGlyphs">Molle</text>
  <text class="lbl" x="1575.0" y="615.1" textLength="110.5" lengthAdjust="spacingAndGlyphs">Straps</text>
  <text class="lbl" x="1603.6" y="830.2" textLength="94.2" lengthAdjust="spacingAndGlyphs">Quick</text>
  <text class="lbl" x="1702.4" y="830.2" textLength="130.8" lengthAdjust="spacingAndGlyphs">Release</text>
  <text class="lbl" x="1603.6" y="875.2" textLength="111.6" lengthAdjust="spacingAndGlyphs">Buckle</text>
  <text class="lbl" x="88.4" y="1067.6" textLength="93.7" lengthAdjust="spacingAndGlyphs">Quick</text>
  <text class="lbl" x="188.2" y="1067.6" textLength="180.4" lengthAdjust="spacingAndGlyphs">Disconnect</text>
  <text class="lbl" x="375.1" y="1067.6" textLength="121.9" lengthAdjust="spacingAndGlyphs">System</text>
  <text class="lbl lbl2" x="904.7" y="1163.8" textLength="164.8" lengthAdjust="spacingAndGlyphs">American</text>
  <text class="lbl lbl2" x="1080.1" y="1163.8" textLength="202.1" lengthAdjust="spacingAndGlyphs">Engineering</text>
</g>
<g id="flag">
<rect x="770" y="1122.5" width="87" height="52.5" fill="#ffffff"/>
<rect x="770" y="1122.50" width="87" height="4.04" fill="#e0162b"/>
<rect x="770" y="1130.58" width="87" height="4.04" fill="#e0162b"/>
<rect x="770" y="1138.65" width="87" height="4.04" fill="#e0162b"/>
<rect x="770" y="1146.73" width="87" height="4.04" fill="#e0162b"/>
<rect x="770" y="1154.81" width="87" height="4.04" fill="#e0162b"/>
<rect x="770" y="1162.88" width="87" height="4.04" fill="#e0162b"/>
<rect x="770" y="1170.96" width="87" height="4.04" fill="#e0162b"/>
<rect x="770" y="1122.5" width="34.8" height="28.27" fill="#27489b"/>
<circle cx="772.90" cy="1125.33" r="1.05" fill="#ffffff"/>
<circle cx="778.70" cy="1125.33" r="1.05" fill="#ffffff"/>
<circle cx="784.50" cy="1125.33" r="1.05" fill="#ffffff"/>
<circle cx="790.30" cy="1125.33" r="1.05" fill="#ffffff"/>
<circle cx="796.10" cy="1125.33" r="1.05" fill="#ffffff"/>
<circle cx="801.90" cy="1125.33" r="1.05" fill="#ffffff"/>
<circle cx="775.80" cy="1128.15" r="1.05" fill="#ffffff"/>
<circle cx="781.60" cy="1128.15" r="1.05" fill="#ffffff"/>
<circle cx="787.40" cy="1128.15" r="1.05" fill="#ffffff"/>
<circle cx="793.20" cy="1128.15" r="1.05" fill="#ffffff"/>
<circle cx="799.00" cy="1128.15" r="1.05" fill="#ffffff"/>
<circle cx="772.90" cy="1130.98" r="1.05" fill="#ffffff"/>
<circle cx="778.70" cy="1130.98" r="1.05" fill="#ffffff"/>
<circle cx="784.50" cy="1130.98" r="1.05" fill="#ffffff"/>
<circle cx="790.30" cy="1130.98" r="1.05" fill="#ffffff"/>
<circle cx="796.10" cy="1130.98" r="1.05" fill="#ffffff"/>
<circle cx="801.90" cy="1130.98" r="1.05" fill="#ffffff"/>
<circle cx="775.80" cy="1133.81" r="1.05" fill="#ffffff"/>
<circle cx="781.60" cy="1133.81" r="1.05" fill="#ffffff"/>
<circle cx="787.40" cy="1133.81" r="1.05" fill="#ffffff"/>
<circle cx="793.20" cy="1133.81" r="1.05" fill="#ffffff"/>
<circle cx="799.00" cy="1133.81" r="1.05" fill="#ffffff"/>
<circle cx="772.90" cy="1136.63" r="1.05" fill="#ffffff"/>
<circle cx="778.70" cy="1136.63" r="1.05" fill="#ffffff"/>
<circle cx="784.50" cy="1136.63" r="1.05" fill="#ffffff"/>
<circle cx="790.30" cy="1136.63" r="1.05" fill="#ffffff"/>
<circle cx="796.10" cy="1136.63" r="1.05" fill="#ffffff"/>
<circle cx="801.90" cy="1136.63" r="1.05" fill="#ffffff"/>
<circle cx="775.80" cy="1139.46" r="1.05" fill="#ffffff"/>
<circle cx="781.60" cy="1139.46" r="1.05" fill="#ffffff"/>
<circle cx="787.40" cy="1139.46" r="1.05" fill="#ffffff"/>
<circle cx="793.20" cy="1139.46" r="1.05" fill="#ffffff"/>
<circle cx="799.00" cy="1139.46" r="1.05" fill="#ffffff"/>
<circle cx="772.90" cy="1142.29" r="1.05" fill="#ffffff"/>
<circle cx="778.70" cy="1142.29" r="1.05" fill="#ffffff"/>
<circle cx="784.50" cy="1142.29" r="1.05" fill="#ffffff"/>
<circle cx="790.30" cy="1142.29" r="1.05" fill="#ffffff"/>
<circle cx="796.10" cy="1142.29" r="1.05" fill="#ffffff"/>
<circle cx="801.90" cy="1142.29" r="1.05" fill="#ffffff"/>
<circle cx="775.80" cy="1145.12" r="1.05" fill="#ffffff"/>
<circle cx="781.60" cy="1145.12" r="1.05" fill="#ffffff"/>
<circle cx="787.40" cy="1145.12" r="1.05" fill="#ffffff"/>
<circle cx="793.20" cy="1145.12" r="1.05" fill="#ffffff"/>
<circle cx="799.00" cy="1145.12" r="1.05" fill="#ffffff"/>
<circle cx="772.90" cy="1147.94" r="1.05" fill="#ffffff"/>
<circle cx="778.70" cy="1147.94" r="1.05" fill="#ffffff"/>
<circle cx="784.50" cy="1147.94" r="1.05" fill="#ffffff"/>
<circle cx="790.30" cy="1147.94" r="1.05" fill="#ffffff"/>
<circle cx="796.10" cy="1147.94" r="1.05" fill="#ffffff"/>
<circle cx="801.90" cy="1147.94" r="1.05" fill="#ffffff"/>
</g>
</svg>
</body>
</html>
